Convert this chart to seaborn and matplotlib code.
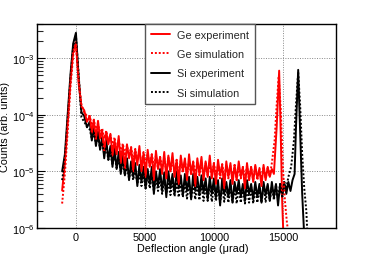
import numpy as np
import pandas as pd
import matplotlib
matplotlib.use("Agg")
import matplotlib.pyplot as plt
import seaborn as sns
from matplotlib.lines import Line2D

sns.set_theme(style="white")
plt.rcParams['font.family'] = ['Liberation Sans', 'DejaVu Sans']

# ---------------- data (values in units of 1e-6) ----------------
head_x = [-1000, -800, -600, -400, -200, 0, 200, 400, 600, 800]
tail_start = 1000
tail_step = 150

ge_exp_head = [4.6, 14, 70, 380, 1300, 1900, 350, 140, 120, 75]
ge_exp_tail = [95, 48, 80, 36, 78, 38, 52, 22, 50, 30,
               46, 19, 35, 20, 42, 14, 29, 11, 30, 17,
               26, 10, 24, 13, 28, 10, 21, 8, 24, 12,
               20, 7, 23, 11, 18, 9, 22, 7.5, 19, 10,
               21, 8, 16, 6, 19, 10, 17, 7, 20, 9,
               15, 5.5, 17, 9, 18, 7, 15, 8, 19, 7.5,
               14, 6, 16, 8.5, 13, 5, 15, 8, 14, 6,
               13, 7, 15, 8, 12, 5, 14, 7, 12, 6.5,
               13, 7.5, 11, 5.5, 13, 7, 12, 8, 11, 9]
ge_exp_peak_x = [14550, 14730, 14850, 14950, 15050]
ge_exp_peak_y = [60, 600, 40, 3, 0.6]

ge_sim_head = [2.7, 9, 50, 300, 1100, 1700, 400, 150, 110, 95]
ge_sim_tail = [95, 65, 82, 52, 70, 45, 58, 38, 52, 33,
               44, 28, 40, 24, 35, 22, 31, 19, 29, 18,
               27, 16, 25, 15, 23, 14, 22, 13, 21, 12.5,
               20, 12, 19, 11, 18, 11, 17, 10, 17.5, 10,
               16, 9.5, 16, 9, 15.5, 9.5, 15, 9, 15, 8.5,
               14.5, 9, 14, 8.5, 14.5, 8, 14, 8.5, 13.5, 8,
               14, 8, 13, 7.5, 13.5, 8, 13, 7.5, 12.5, 7.5,
               13, 7, 12.5, 7.5, 12, 7, 12.5, 7, 12, 7,
               12, 7, 11.5, 7, 12, 7.5, 11.5, 8, 14]
ge_sim_peak_x = [14400, 14550, 14700, 14850, 15000, 15150, 15300, 15450]
ge_sim_peak_y = [35, 150, 480, 120, 12, 3, 1.2, 0.7]

si_exp_head = [10, 20, 100, 500, 1800, 2800, 450, 110, 95, 60]
si_exp_tail = [75, 35, 60, 28, 50, 24, 40, 17, 36, 16,
               28, 12, 26, 11, 22, 9, 19, 8.5, 17, 7,
               15, 8, 14, 5.5, 13, 6.5, 12, 5, 11, 6,
               12, 4, 10, 5.5, 11, 4.5, 9.5, 3.5, 10, 5,
               9, 4, 10, 5, 8.5, 3.8, 9, 4.5, 8, 3.2,
               9, 4.5, 8, 3.8, 8.5, 4.2, 7.5, 3.2, 8, 4,
               7.5, 3.5, 7, 2.5, 7.5, 4, 6.5, 3.5, 7, 2.8,
               6.5, 4, 7, 3.5, 6, 3, 7, 4, 6, 3.2,
               6.5, 3.5, 6, 2.8, 6.5, 3.8, 6, 3, 6.5, 3.5,
               6, 2.5, 6, 3.5, 6.5, 4, 6.5, 4.5, 7, 9]
si_exp_peak_x = [15950, 16110, 16250, 16400, 16550]
si_exp_peak_y = [60, 620, 50, 4, 0.7]

si_sim_head = [7, 16, 80, 420, 1600, 2500, 500, 90, 75, 62]
si_sim_tail = [55, 38, 48, 30, 40, 25, 32, 20, 27, 16,
               22, 13, 19, 11.5, 16, 10, 14, 8.5, 12.5, 7.5,
               11.5, 7, 10.5, 6, 9.5, 5.5, 9, 5, 8.5, 5,
               8, 4.5, 7.5, 4.5, 7.5, 4, 7, 4, 6.5, 3.8,
               6.8, 3.6, 6.5, 3.5, 6.2, 3.5, 6.4, 3.3, 6, 3.3,
               6.2, 3.2, 5.8, 3.1, 6, 3, 5.6, 3, 5.8, 2.9,
               5.5, 3, 5.6, 2.8, 5.4, 2.9, 5.5, 2.8, 5.3, 2.8,
               5.4, 2.7, 5.2, 2.8, 5.3, 2.7, 5.2, 2.8, 5.3, 2.7,
               5.2, 2.8, 5.3, 2.8, 5.4, 2.9, 5.5, 3, 5.6, 3.1,
               5.8, 3.3, 6, 3.6, 6.5, 5, 8]
si_sim_peak_x = [15600, 15800, 15950, 16110, 16250, 16400, 16550, 16700, 16800]
si_sim_peak_y = [12, 35, 150, 560, 150, 20, 5, 2, 0.6]

labels = ["Ge experiment", "Ge simulation", "Si experiment", "Si simulation"]
x_ticks = [0, 5000, 10000, 15000]


def series(head, tail, px, py):
    x = head_x + list(tail_start + tail_step * np.arange(len(tail))) + px
    y = list(np.array(head + tail + py) * 1e-6)
    return pd.DataFrame({"x": x, "y": y})


data = [series(ge_exp_head, ge_exp_tail, ge_exp_peak_x, ge_exp_peak_y),
        series(ge_sim_head, ge_sim_tail, ge_sim_peak_x, ge_sim_peak_y),
        series(si_exp_head, si_exp_tail, si_exp_peak_x, si_exp_peak_y),
        series(si_sim_head, si_sim_tail, si_sim_peak_x, si_sim_peak_y)]
colors = ["#ff0000", "#ff0000", "#000000", "#000000"]
styles = ["-", (0, (1, 1)), "-", (0, (1, 1))]

fig = plt.figure(figsize=(3.74, 2.55), dpi=100)
ax = fig.add_axes([0.099, 0.102, 0.799, 0.800])

order = [2, 0, 3, 1]
for i in order:
    sns.lineplot(data=data[i], x="x", y="y", ax=ax, color=colors[i],
                 linestyle=styles[i], linewidth=1.4, sort=False,
                 estimator=None, legend=False)

ax.set_yscale("log")
ax.set_xlim(-2820, 18840)
ax.set_ylim(1e-6, 4e-3)
ax.set_xticks(x_ticks)
ax.set_xticklabels([str(t) for t in x_ticks])
ax.grid(True, which="major", color="#888888", linestyle=(0, (1, 1.5)), linewidth=0.7)
ax.tick_params(axis="x", which="both", length=0, labelsize=7.8, pad=3, colors="black")
ax.tick_params(axis="y", which="major", direction="in", length=6, width=0.8,
               labelsize=7.8, pad=1.5, left=True, colors="black")
ax.tick_params(axis="y", which="minor", direction="in", length=4, width=0.8, left=True)
for s in ax.spines.values():
    s.set_color("black")
    s.set_linewidth(1.0)

ax.set_xlabel("Deflection angle (\u03bcrad)", fontsize=7.8, color="black")
ax.set_ylabel("Counts (arb. units)", fontsize=7.8, color="black")
ax.xaxis.set_label_coords(0.52, -0.075)
ax.yaxis.set_label_coords(-0.09, 0.5)

handles = [Line2D([0], [0], color=colors[i], linestyle=styles[i], linewidth=1.4)
           for i in range(4)]
leg = ax.legend(handles, labels, loc="upper left", bbox_to_anchor=(0.361, 1.0),
                fontsize=7.8, frameon=True, fancybox=False, borderaxespad=0,
                handlelength=1.8, handletextpad=0.6, labelspacing=0.85,
                borderpad=0.55, framealpha=1.0)
leg.get_frame().set_edgecolor("#555555")
leg.get_frame().set_linewidth(1.0)

fig.savefig("out.png", dpi=100)
